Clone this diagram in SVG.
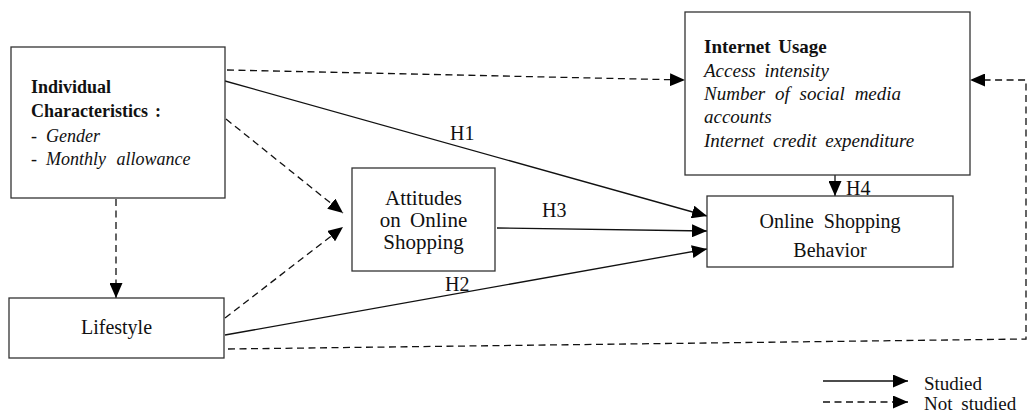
<svg xmlns="http://www.w3.org/2000/svg" width="1029" height="414" viewBox="0 0 1029 414">
<style>
.box{fill:#fff;stroke:#333;stroke-width:1.3}
.t{font-family:"Liberation Serif","Times New Roman",serif;font-size:20px;fill:#111}
.s{font-size:19px}
.m{font-size:18px}
.b{font-weight:bold}
.i{font-style:italic}
.ln{fill:none;stroke:#111;stroke-width:1.3}
.d{stroke-dasharray:7,4.5}
</style>
<defs>
<marker id="ah" markerUnits="userSpaceOnUse" markerWidth="15" markerHeight="13" refX="15" refY="6.5" orient="auto">
<path d="M0,0 L15,6.5 L0,13 z" fill="#000"/>
</marker>
</defs>
<rect width="1029" height="414" fill="#fff"/>
<g id="connectors">
<line class="ln d" x1="227" y1="70" x2="685" y2="80" marker-end="url(#ah)"/>
<line class="ln" x1="225" y1="81" x2="707" y2="216" marker-end="url(#ah)"/>
<line class="ln d" x1="226" y1="119" x2="343" y2="213" marker-end="url(#ah)"/>
<line class="ln d" x1="116" y1="199" x2="116" y2="298" marker-end="url(#ah)"/>
<line class="ln d" x1="225" y1="318" x2="343" y2="227" marker-end="url(#ah)"/>
<line class="ln" x1="497" y1="228" x2="707" y2="231" marker-end="url(#ah)"/>
<line class="ln" x1="225" y1="335" x2="707" y2="249" marker-end="url(#ah)"/>
<line class="ln" x1="835" y1="175" x2="835" y2="196" marker-end="url(#ah)"/>
<polyline class="ln d" points="228,349 1026,339 1026,80 970,80" marker-end="url(#ah)"/>
<text class="t" x="450" y="140">H1</text>
<text class="t" x="542" y="217">H3</text>
<text class="t" x="445" y="291">H2</text>
<text class="t" x="846" y="195">H4</text>
</g>
<g id="individual">
<rect class="box" x="11" y="47" width="214" height="151"/>
<text class="t m b" x="31" y="93">Individual</text>
<text class="t m b" x="31" y="117">Characteristics<tspan x="155">:</tspan></text>
<text class="t m" x="31" y="142">-<tspan class="i" x="46">Gender</tspan></text>
<text class="t m" x="31" y="165">-<tspan class="i" x="46" word-spacing="6">Monthly allowance</tspan></text>
</g>
<g id="internet">
<rect class="box" x="685" y="12" width="285" height="163"/>
<text class="t s b" x="704" y="53" word-spacing="3">Internet Usage</text>
<text class="t s i" x="704" y="77" word-spacing="4">Access intensity</text>
<text class="t s i" x="704" y="100" word-spacing="5">Number of social media</text>
<text class="t s i" x="704" y="123">accounts</text>
<text class="t s i" x="704" y="147" word-spacing="4">Internet credit expenditure</text>
</g>
<g id="attitudes">
<rect class="box" x="352" y="168" width="143" height="103"/>
<text class="t" x="423.5" y="205" text-anchor="middle" style="font-size:21px">Attitudes</text>
<text class="t" x="423.5" y="227" text-anchor="middle" word-spacing="4" style="font-size:21px">on Online</text>
<text class="t" x="423.5" y="249" text-anchor="middle" style="font-size:21px">Shopping</text>
</g>
<g id="osb">
<rect class="box" x="707" y="196" width="246" height="71"/>
<text class="t" x="830" y="228" text-anchor="middle" word-spacing="5">Online Shopping</text>
<text class="t" x="830" y="257" text-anchor="middle">Behavior</text>
</g>
<g id="lifestyle">
<rect class="box" x="9" y="298" width="215" height="60"/>
<text class="t" x="116.5" y="334" text-anchor="middle">Lifestyle</text>
</g>
<g id="legend">
<line class="ln" x1="823" y1="381" x2="908" y2="381" marker-end="url(#ah)"/>
<line class="ln d" x1="823" y1="402" x2="908" y2="402" marker-end="url(#ah)"/>
<text class="t s" x="924" y="390">Studied</text>
<text class="t s" x="924" y="410" word-spacing="4">Not studied</text>
</g>
</svg>
